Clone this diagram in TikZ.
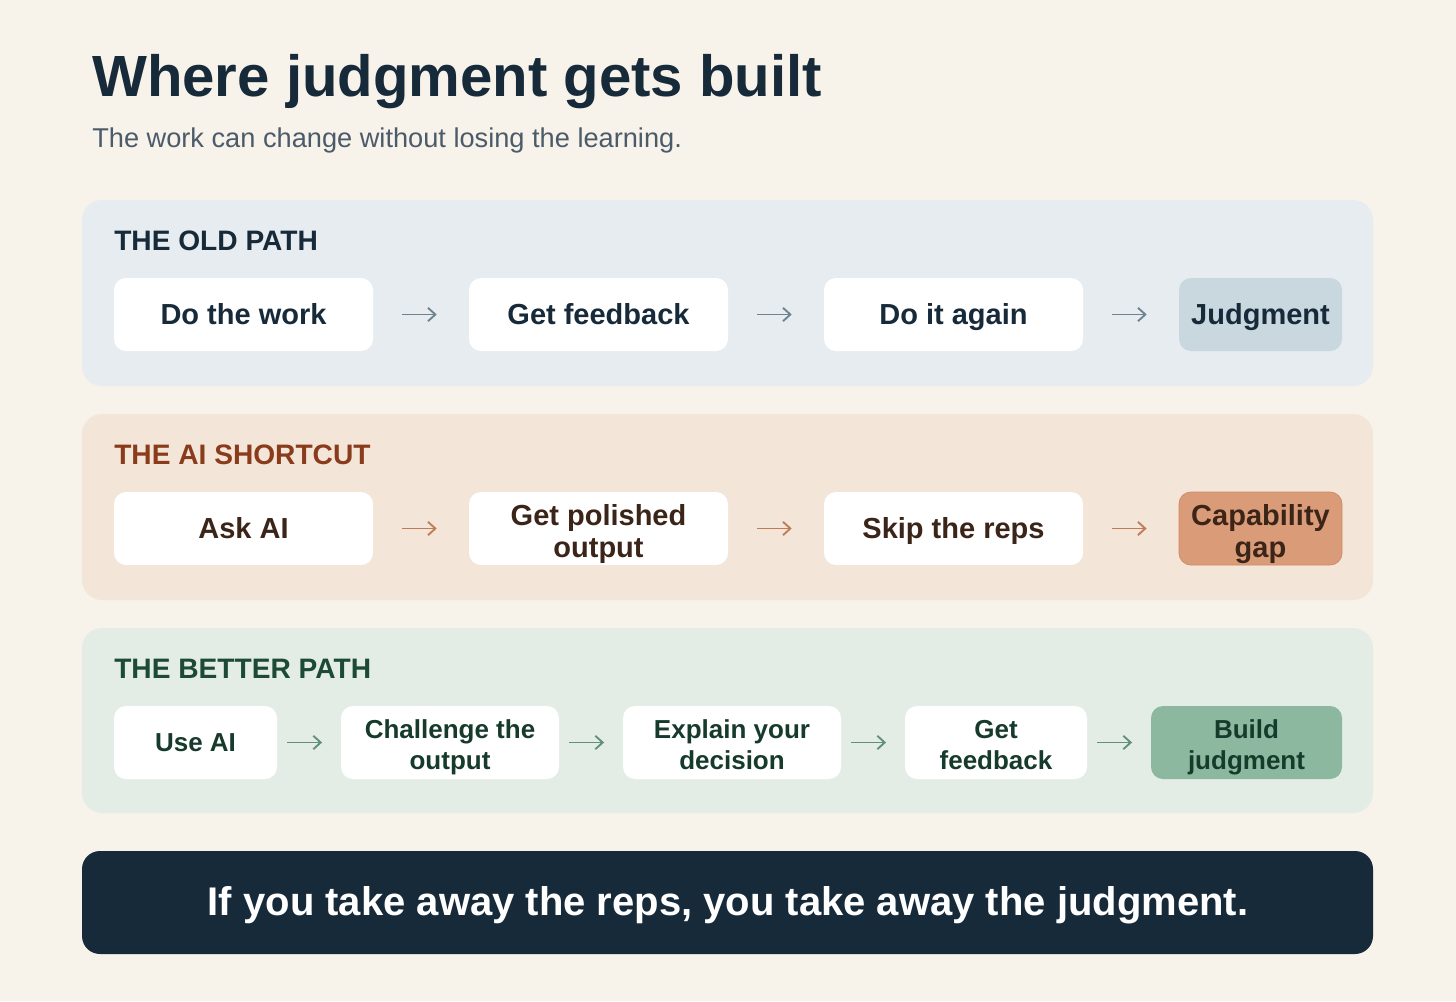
\documentclass[tikz,border=0pt]{standalone}
\usepackage{fontspec}
\setmainfont{Liberation Sans}
\usetikzlibrary{arrows.meta}
\definecolor{bgc}{HTML}{F7F2EA}
\definecolor{navy}{HTML}{172A3A}
\definecolor{subg}{HTML}{4B5B69}
\definecolor{panA}{HTML}{E6ECF0}
\definecolor{judA}{HTML}{C9D7DF}
\definecolor{arrA}{HTML}{6E8290}
\definecolor{panB}{HTML}{F3E5D8}
\definecolor{titB}{HTML}{8A3B1B}
\definecolor{txtB}{HTML}{3B2418}
\definecolor{arrB}{HTML}{C07C58}
\definecolor{capB}{HTML}{DA9B78}
\definecolor{capE}{HTML}{D08C68}
\definecolor{panC}{HTML}{E3EDE6}
\definecolor{titC}{HTML}{1D4A35}
\definecolor{txtC}{HTML}{163A2B}
\definecolor{arrC}{HTML}{5F907A}
\definecolor{bldC}{HTML}{8CB89F}
\tikzset{
  panelbox/.style={fill=#1, draw=none, rounded corners=15pt},
  stepbox/.style={fill=white, draw=none, rounded corners=9pt, minimum height=54.75pt, inner sep=0pt, align=center},
  rowA/.style={stepbox, text=navy, font=\fontsize{21.75}{24}\selectfont\bfseries, text height=15.6pt, text depth=0pt},
  rowB/.style={stepbox, text=txtB, font=\fontsize{21.75}{24}\selectfont\bfseries, text height=15.6pt, text depth=0pt},
  rowBtwo/.style={rowB, text height=43.6pt},
  rowC/.style={stepbox, text=txtC, font=\fontsize{19.5}{23.25}\selectfont\bfseries, text height=14pt, text depth=0pt},
  rowCtwo/.style={rowC, text height=39.8pt},
  paneltitle/.style={anchor=base west, inner sep=0pt, font=\fontsize{21.1}{24}\selectfont\bfseries},
  flowarrow/.style={draw=#1, line width=1.4pt, -{Straight Barb[length=5.5pt,width=10pt,line width=1.4pt]}},
  flowA/.style={flowarrow=arrA, shorten <=21.75pt, shorten >=24pt},
  flowB/.style={flowarrow=arrB, shorten <=21.75pt, shorten >=24pt},
  flowC/.style={flowarrow=arrC, shorten <=7.5pt, shorten >=14pt},
}
\begin{document}
\begin{tikzpicture}[x=0.75pt, y=-0.75pt]
\fill[bgc] (0,0) rectangle (1456,1001);
\useasboundingbox (0,0) rectangle (1456,1001);

\node[anchor=base west, inner sep=0pt, text=navy, font=\fontsize{43.6}{50}\selectfont\bfseries] (title) at (92,96) {Where judgment gets built};
\node[anchor=base west, inner sep=0pt, text=subg, font=\fontsize{20.4}{24}\selectfont] (subtitle) at (92,147) {The work can change without losing the learning.};

% Panel A
\fill[panelbox=panA] (82,200) rectangle (1373,386);
\node[paneltitle, text=navy] (tA) at (114,250) {THE OLD PATH};
\node[rowA, minimum width=194.25pt] (a1) at (243.5,314.5) {Do the work};
\node[rowA, minimum width=194.25pt] (a2) at (598.5,314.5) {Get feedback};
\node[rowA, minimum width=194.25pt] (a3) at (953.5,314.5) {Do it again};
\node[rowA, minimum width=122.25pt, fill=judA] (a4) at (1260.5,314.5) {Judgment};
\draw[flowA] (a1.east) -- (a2.west);
\draw[flowA] (a2.east) -- (a3.west);
\draw[flowA] (a3.east) -- (a4.west);

% Panel B
\fill[panelbox=panB] (82,414) rectangle (1373,600);
\node[paneltitle, text=titB] (tB) at (114,464) {THE AI SHORTCUT};
\node[rowB, minimum width=194.25pt] (b1) at (243.5,528.5) {Ask AI};
\node[rowBtwo, minimum width=194.25pt] (b2) at (598.5,528.5) {Get polished\\output};
\node[rowB, minimum width=194.25pt] (b3) at (953.5,528.5) {Skip the reps};
\node[rowBtwo, minimum width=122.25pt, fill=capB, draw=capE, line width=0.6pt] (b4) at (1260.5,528.5) {Capability\\gap};
\draw[flowB] (b1.east) -- (b2.west);
\draw[flowB] (b2.east) -- (b3.west);
\draw[flowB] (b3.east) -- (b4.west);

% Panel C
\fill[panelbox=panC] (82,628) rectangle (1373,813);
\node[paneltitle, text=titC] (tC) at (114,678) {THE BETTER PATH};
\node[rowC, minimum width=122.25pt] (c1) at (195.5,742.5) {Use AI};
\node[rowCtwo, minimum width=163.5pt] (c2) at (450,742.5) {Challenge the\\output};
\node[rowCtwo, minimum width=163.5pt] (c3) at (732,742.5) {Explain your\\decision};
\node[rowCtwo, minimum width=136.5pt] (c4) at (996,742.5) {Get\\feedback};
\node[rowCtwo, minimum width=143.25pt, fill=bldC] (c5) at (1246.5,742.5) {Build\\judgment};
\draw[flowC] (c1.east) -- (c2.west);
\draw[flowC] (c2.east) -- (c3.west);
\draw[flowC] (c3.east) -- (c4.west);
\draw[flowC] (c4.east) -- (c5.west);

% Bottom bar
\fill[navy, rounded corners=13.5pt] (82,851) rectangle (1373,954);
\node[anchor=base, inner sep=0pt, text=white, font=\fontsize{30}{36}\selectfont\bfseries] (bottom) at (728,915) {If you take away the reps, you take away the judgment.};
\end{tikzpicture}
\end{document}
